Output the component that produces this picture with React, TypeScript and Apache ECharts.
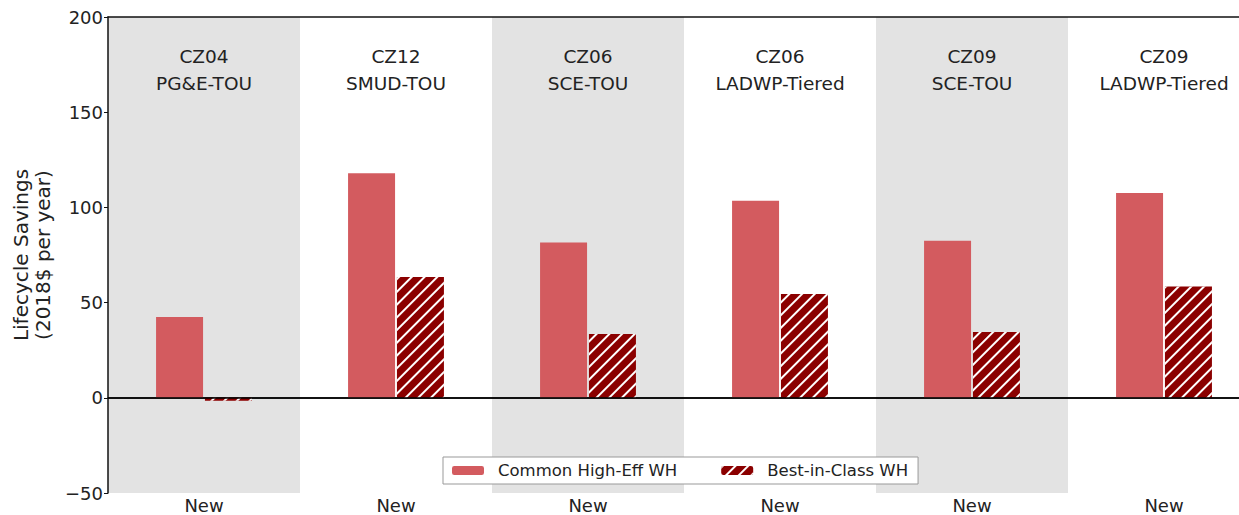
import React, { useEffect, useRef } from "react";
import * as echarts from "echarts";

const panelTitles = [
  "CZ04\nPG&E-TOU",
  "CZ12\nSMUD-TOU",
  "CZ06\nSCE-TOU",
  "CZ06\nLADWP-Tiered",
  "CZ09\nSCE-TOU",
  "CZ09\nLADWP-Tiered",
];
const xLabels = ["New", "New", "New", "New", "New", "New"];
const commonHighEff = [42.5, 118, 81.5, 103.5, 82.5, 107.5];
const bestInClass = [-1.5, 63.5, 33.5, 54.5, 34.5, 58.5];
const yTicks = { min: -50, max: 200, interval: 50 };

const FONT = "DejaVu Sans";

export default function App() {
  const ref = useRef<HTMLDivElement>(null);
  useEffect(() => {
    const chart = echarts.init(ref.current!, null, { renderer: "svg" });
    chart.setOption({
      animation: false,
      textStyle: { fontFamily: FONT },
      grid: { left: 108, top: 17, bottom: 22, right: 0 },
      legend: {
        left: 443,
        bottom: 31,
        data: ["Common High-Eff WH", "Best-in-Class WH"],
        backgroundColor: "#fff",
        borderColor: "#999",
        borderWidth: 1,
        borderRadius: 0,
        padding: [5, 10, 5, 9],
        itemWidth: 32,
        itemHeight: 9,
        itemGap: 44,
        textStyle: { fontFamily: FONT, fontSize: 16.5, color: "#222", padding: [0, 0, 0, 9] },
      },
      xAxis: [
        {
          type: "category",
          data: xLabels,
          position: "bottom",
          axisLine: { show: true, lineStyle: { color: "#111", width: 1.5 } },
          axisTick: { show: false },
          axisLabel: { fontFamily: FONT, fontSize: 18, color: "#222", margin: 3 },
          splitArea: { show: true, areaStyle: { color: ["#e3e3e3", "#ffffff"] } },
          splitLine: { show: false },
        },
        {
          type: "category",
          data: panelTitles,
          position: "top",
          axisLine: { show: true, lineStyle: { color: "#111", width: 1.5 } },
          axisTick: { show: false },
          axisLabel: {
            inside: true,
            margin: 26,
            fontFamily: FONT,
            fontSize: 18.5,
            lineHeight: 27,
            color: "#222",
          },
        },
      ],
      yAxis: {
        type: "value",
        min: yTicks.min,
        max: yTicks.max,
        interval: yTicks.interval,
        name: "Lifecycle Savings\n(2018$ per year)",
        nameLocation: "middle",
        nameGap: 50,
        nameTextStyle: { fontFamily: FONT, fontSize: 20, color: "#222", lineHeight: 22 },
        axisLine: { show: true, lineStyle: { color: "#111", width: 1.5 } },
        axisTick: { show: true, length: 4, lineStyle: { color: "#111" } },
        axisLabel: {
          fontFamily: FONT,
          fontSize: 18,
          color: "#222",
          margin: 5,
          formatter: (v: number) => (v < 0 ? "\u2212" + Math.abs(v) : String(v)),
        },
        splitLine: { show: false },
      },
      series: [
        {
          name: "Common High-Eff WH",
          type: "bar",
          data: commonHighEff,
          barWidth: 47,
          barGap: "4%",
          itemStyle: { color: "#d35b5f" },
          markLine: {
            silent: true,
            symbol: ["none", "none"],
            label: { show: false },
            lineStyle: { color: "#000", width: 1.5, type: "solid" },
            data: [{ yAxis: 0 }],
            z: 10,
          },
        },
        {
          name: "Best-in-Class WH",
          type: "bar",
          data: bestInClass,
          barWidth: 47,
          itemStyle: {
            color: "#8b0000",
            decal: {
              symbol: "rect",
              symbolSize: 1,
              dashArrayX: [1, 0],
              dashArrayY: [2, 7],
              rotation: -Math.PI / 4,
              color: "#ffffff",
            },
          },
        },
      ],
    });
    return () => chart.dispose();
  }, []);
  return (
    <div
      ref={ref}
      style={{ position: "fixed", left: 0, top: 0, width: 1260, height: 515, background: "#fff" }}
    />
  );
}
